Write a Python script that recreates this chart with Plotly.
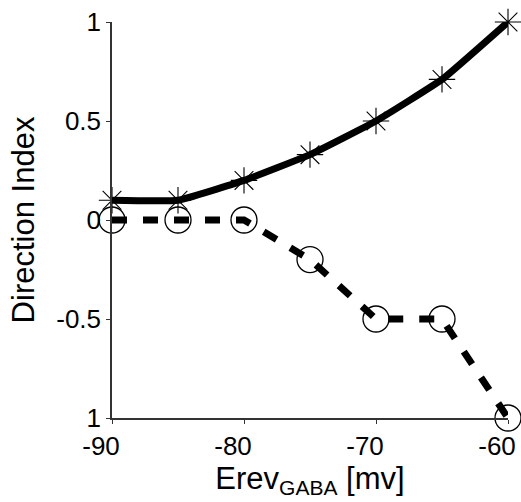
import plotly.graph_objects as go

erev = [-90, -85, -80, -75, -70, -65, -60]
di_star = [0.1, 0.1, 0.2, 0.33, 0.5, 0.71, 1.0]
di_circle = [0.0, 0.0, 0.0, -0.2, -0.5, -0.5, -1.0]

x_ticks = [-90, -80, -70, -60]
x_ticktext = ["-90", "-80", "-70", "-60"]
y_ticks = [-1, -0.5, 0, 0.5, 1]
y_ticktext = ["1", "-0.5", "0", "0.5", "1"]

fig = go.Figure()
fig.add_trace(go.Scatter(
    x=erev, y=di_circle, mode="lines+markers",
    line=dict(color="black", width=7, dash="15px,16px"),
    marker=dict(symbol="circle-open", size=26, color="black", line=dict(width=1.3, color="black")),
    cliponaxis=False, showlegend=False))
fig.add_trace(go.Scatter(
    x=erev, y=di_star, mode="lines+markers",
    line=dict(color="black", width=7, shape="spline", smoothing=0.35),
    marker=dict(symbol="asterisk-open", size=22, color="black", line=dict(width=1.1, color="black")),
    cliponaxis=False, showlegend=False))

font = dict(family="Liberation Sans, Arial, sans-serif", size=26, color="black")
fig.update_layout(
    width=521, height=502,
    margin=dict(l=112, r=13, t=22, b=84, autoexpand=False),
    paper_bgcolor="white", plot_bgcolor="white",
    font=font,
    xaxis=dict(range=[-90, -60], tickvals=x_ticks, ticktext=x_ticktext, automargin=False,
               showgrid=False, zeroline=False, showline=True, linecolor="#333333", linewidth=1.5,
               ticks="outside", ticklen=4, tickcolor="#333333", ticklabelshift=-11,
               title=dict(text="Erev<sub><span style='font-size:21px'>GABA</span></sub> [mv]", standoff=2)),
    yaxis=dict(range=[-1, 1], tickvals=y_ticks, ticktext=y_ticktext, automargin=False,
               showgrid=False, zeroline=False, showline=True, linecolor="#333333", linewidth=1.5,
               ticks="outside", ticklen=4, tickcolor="#333333",
               title=dict(text="Direction Index", standoff=12)),
)
fig.write_html("out.html")
